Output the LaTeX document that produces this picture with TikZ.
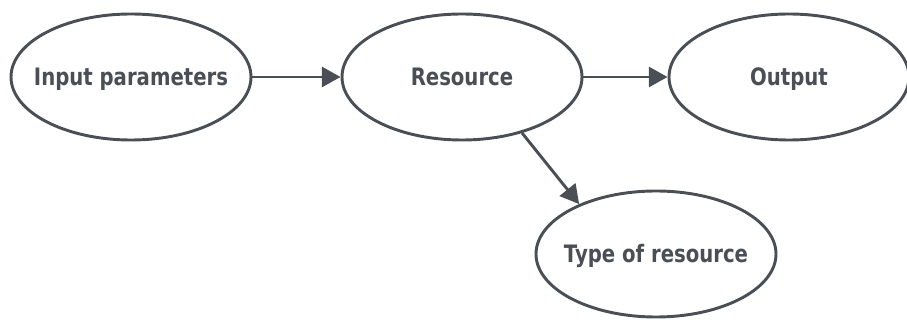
\documentclass[tikz,border=0pt]{standalone}
\usepackage{fontspec}
\setmainfont{DejaVu Sans}[FakeStretch=0.82]
\usetikzlibrary{positioning}
\usetikzlibrary{shapes,arrows.meta}
\definecolor{ink}{HTML}{4A4F55}
\tikzstyle{blob}=[ellipse,draw=ink,line width=2.2pt,fill=white,minimum width=180pt,minimum height=94.5pt,inner xsep=-20pt,inner ysep=0pt,text height=13.1pt,text depth=0pt,text=ink,font=\bfseries\fontsize{18pt}{20pt}\selectfont]
\tikzstyle{flow} = [draw=ink,line width=2.2pt,-{Triangle[length=14pt,width=15pt]}]

\begin{document}
\begin{tikzpicture}[x=0.75pt,y=-0.75pt]
    \useasboundingbox (0,0) rectangle (907,320);
    \foreach \pos/\name/\label in {{(131,77)/inp/Input parameters}, {(462,77)/res/Resource}, {(789,77)/out/Output}, {(656,254)/typ/Type of resource}}
        \node[blob] (\name) at \pos {\label};

    \foreach \source/\dest in {inp/res, res/out}
        \path[flow] (\source) -- (\dest);

    \path[flow] (res.-43) -- (typ.147);
\end{tikzpicture}
\end{document}
